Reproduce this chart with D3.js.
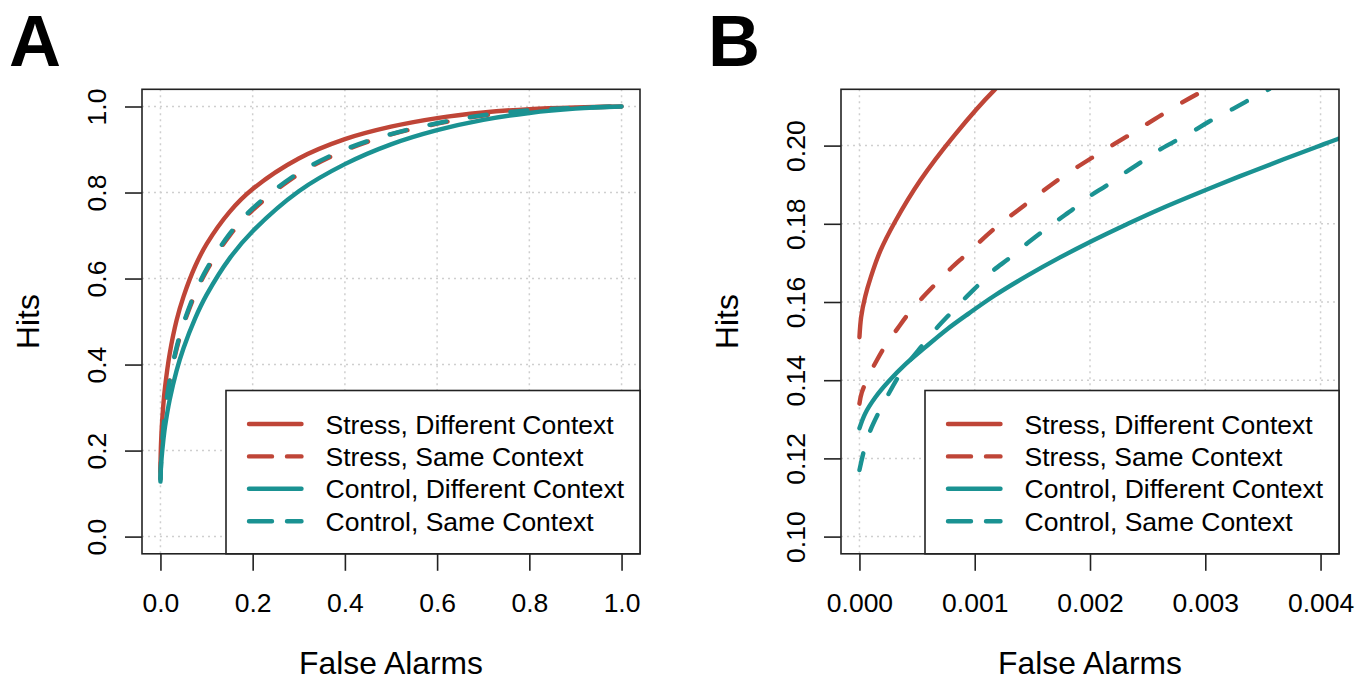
<!DOCTYPE html>
<html>
<head>
<meta charset="utf-8">
<script src="https://cdn.jsdelivr.net/npm/d3@7"></script>
<style>
  body { margin: 0; background: #fff; }
  text { font-family: "Liberation Sans", Arial, Helvetica, sans-serif; }
</style>
</head>
<body>
<script>
// series (false alarm rate, hit rate)
const seriesNames = ["Stress, Different Context", "Stress, Same Context",
                     "Control, Different Context", "Control, Same Context"];

const stressDiffFA   = [0, 0.000015, 0.00005, 0.0001, 0.00018, 0.00031, 0.00053, 0.00082, 0.00117, 0.002, 0.004, 0.007, 0.01, 0.02, 0.035, 0.05, 0.075, 0.1, 0.15, 0.2, 0.3, 0.4, 0.5, 0.6, 0.7, 0.8, 0.9, 1.0];
const stressDiffHits = [0.151, 0.1562, 0.1614, 0.1665, 0.1730, 0.1806, 0.1912, 0.2025, 0.2142, 0.236, 0.274, 0.316, 0.348, 0.425, 0.503, 0.558, 0.628, 0.680, 0.755, 0.808, 0.879, 0.924, 0.953, 0.973, 0.986, 0.994, 0.998, 1.0];

const stressSameFA   = [0, 0.00002, 0.00008, 0.000145, 0.000226, 0.00033, 0.00043, 0.00054, 0.00067, 0.00079, 0.00092, 0.00118, 0.00147, 0.00174, 0.00205, 0.00234, 0.00264, 0.00297, 0.004, 0.007, 0.01, 0.02, 0.035, 0.05, 0.075, 0.1, 0.15, 0.2, 0.3, 0.4, 0.5, 0.6, 0.7, 0.8, 0.9, 1.0];
const stressSameHits = [0.134, 0.1368, 0.1410, 0.1448, 0.1489, 0.1532, 0.1572, 0.1609, 0.1649, 0.1685, 0.1720, 0.1790, 0.1856, 0.1916, 0.1975, 0.2027, 0.2082, 0.2138, 0.228, 0.264, 0.292, 0.362, 0.436, 0.492, 0.563, 0.618, 0.700, 0.759, 0.843, 0.898, 0.935, 0.960, 0.979, 0.990, 0.997, 1.0];

const controlDiffFA   = [0, 0.00005, 0.00014, 0.00025, 0.0004, 0.00057, 0.00075, 0.00095, 0.00117, 0.00146, 0.00174, 0.00203, 0.00232, 0.00261, 0.0031, 0.00339, 0.00368, 0.00397, 0.00415, 0.007, 0.01, 0.02, 0.035, 0.05, 0.075, 0.1, 0.15, 0.2, 0.3, 0.4, 0.5, 0.6, 0.7, 0.8, 0.9, 1.0];
const controlDiffHits = [0.1277, 0.1315, 0.1357, 0.1396, 0.1441, 0.1484, 0.1528, 0.1571, 0.1616, 0.1668, 0.1714, 0.1758, 0.1799, 0.1838, 0.1898, 0.1932, 0.1965, 0.1997, 0.2017, 0.231, 0.256, 0.318, 0.386, 0.438, 0.507, 0.562, 0.647, 0.710, 0.803, 0.866, 0.912, 0.945, 0.969, 0.985, 0.995, 1.0];

const controlSameFA   = [0, 0.00004, 0.00009, 0.00017, 0.00024, 0.00034, 0.00044, 0.00054, 0.00066, 0.00078, 0.0009, 0.00103, 0.00115, 0.0013, 0.00143, 0.00157, 0.00172, 0.00186, 0.00199, 0.00215, 0.00229, 0.00244, 0.00258, 0.00273, 0.00289, 0.00303, 0.00319, 0.00335, 0.00352, 0.004, 0.007, 0.01, 0.02, 0.035, 0.05, 0.075, 0.1, 0.15, 0.2, 0.3, 0.4, 0.5, 0.6, 0.7, 0.8, 0.9, 1.0];
const controlSameHits = [0.117, 0.1221, 0.1268, 0.1319, 0.1358, 0.1410, 0.1451, 0.1487, 0.1530, 0.1568, 0.1605, 0.1643, 0.1678, 0.1712, 0.1744, 0.1776, 0.1809, 0.1839, 0.1869, 0.1899, 0.1928, 0.1957, 0.1985, 0.2010, 0.2036, 0.2061, 0.2086, 0.2112, 0.2139, 0.222, 0.260, 0.290, 0.364, 0.440, 0.496, 0.567, 0.622, 0.704, 0.763, 0.846, 0.900, 0.936, 0.961, 0.980, 0.991, 0.997, 1.0];

// axis limits and ticks
const xLimA = [0, 1];
const yLimA = [0, 1];
const xTicksA = [0, 0.2, 0.4, 0.6, 0.8, 1.0];
const yTicksA = [0, 0.2, 0.4, 0.6, 0.8, 1.0];

const xLimB = [0, 0.004];
const yLimB = [0.10, 0.21];
const xTicksB = [0, 0.001, 0.002, 0.003, 0.004];
const yTicksB = [0.10, 0.12, 0.14, 0.16, 0.18, 0.20];

const xLabel = "False Alarms";
const yLabel = "Hits";

const series = [
  {name: seriesNames[0], fa: stressDiffFA,  hits: stressDiffHits,  color: "#BF4537", dashed: false},
  {name: seriesNames[1], fa: stressSameFA,  hits: stressSameHits,  color: "#BF4537", dashed: true},
  {name: seriesNames[2], fa: controlDiffFA, hits: controlDiffHits, color: "#1A9292", dashed: false},
  {name: seriesNames[3], fa: controlSameFA, hits: controlSameHits, color: "#1A9292", dashed: true}
];

const width = 1369;
const height = 683;
const plotTop = 89.3;
const plotW = 498;
const plotH = 464.5;
const fontSize = 26.5;
const boxColor = "#222";

const svg = d3.select("body")
  .append("svg")
    .attr("width", width)
    .attr("height", height);

function padded(lim) {
  const d = lim[1] - lim[0];
  return [lim[0] - 0.04 * d, lim[1] + 0.04 * d];
}

function drawPanel(p) {
  const left = p.left;
  const bottom = plotTop + plotH;

  const xScale = d3.scaleLinear().domain(padded(p.xLim)).range([left, left + plotW]);
  const yScale = d3.scaleLinear().domain(padded(p.yLim)).range([bottom, plotTop]);

  const g = svg.append("g");

  g.append("clipPath")
    .attr("id", "clip" + p.letter)
    .append("rect")
      .attr("x", left)
      .attr("y", plotTop)
      .attr("width", plotW)
      .attr("height", plotH);

  // dotted grid
  g.selectAll(".gx")
    .data(p.xTicks)
    .enter()
    .append("line")
      .attr("x1", d => xScale(d))
      .attr("x2", d => xScale(d))
      .attr("y1", plotTop)
      .attr("y2", bottom)
      .attr("stroke", "#cfcfcf")
      .attr("stroke-width", 1.5)
      .attr("stroke-dasharray", "2,4");

  g.selectAll(".gy")
    .data(p.yTicks)
    .enter()
    .append("line")
      .attr("x1", left)
      .attr("x2", left + plotW)
      .attr("y1", d => yScale(d))
      .attr("y2", d => yScale(d))
      .attr("stroke", "#cfcfcf")
      .attr("stroke-width", 1.5)
      .attr("stroke-dasharray", "2,4");

  // curves
  const line = d3.line()
    .x(d => xScale(d[0]))
    .y(d => yScale(d[1]))
    .curve(d3.curveCatmullRom.alpha(0.5));

  const curves = g.append("g").attr("clip-path", "url(#clip" + p.letter + ")");
  series.forEach(function(s, i) {
    curves.append("path")
      .datum(s.fa.map((f, j) => [f, s.hits[j]]))
      .attr("d", line)
      .attr("fill", "none")
      .attr("stroke", s.color)
      .attr("stroke-width", 4.4)
      .attr("stroke-linecap", "round")
      .attr("stroke-linejoin", "round")
      .attr("stroke-dasharray", s.dashed ? "17,24" : null)
      .attr("stroke-dashoffset", i === 3 ? p.dashShift : 0);
  });

  // axes
  const xAxis = g.append("g")
    .attr("transform", "translate(0," + bottom + ")")
    .call(d3.axisBottom(xScale)
      .tickValues(p.xTicks)
      .tickSize(17)
      .tickPadding(22)
      .tickFormat(d3.format(p.xFmt)));

  const yAxis = g.append("g")
    .attr("transform", "translate(" + left + ",0)")
    .call(d3.axisLeft(yScale)
      .tickValues(p.yTicks)
      .tickSize(17)
      .tickFormat(d3.format(p.yFmt)));

  [xAxis, yAxis].forEach(function(a) {
    a.select(".domain").remove();
    a.selectAll(".tick line").attr("stroke", boxColor).attr("stroke-width", 1.6);
    a.selectAll(".tick text")
      .attr("fill", "#000")
      .style("font-size", fontSize + "px")
      .style("font-family", '"Liberation Sans", Arial, sans-serif');
  });

  yAxis.selectAll(".tick text")
    .attr("x", 0)
    .attr("dy", "0.36em")
    .attr("text-anchor", "middle")
    .attr("transform", "translate(-46,0) rotate(-90)");

  // box
  g.append("rect")
    .attr("x", left)
    .attr("y", plotTop)
    .attr("width", plotW)
    .attr("height", plotH)
    .attr("fill", "none")
    .attr("stroke", boxColor)
    .attr("stroke-width", 1.6);

  // legend (bottom right)
  const legLeft = left + 84;
  const legTop = 390.5;
  g.append("rect")
    .attr("x", legLeft)
    .attr("y", legTop)
    .attr("width", left + plotW - legLeft)
    .attr("height", bottom - legTop)
    .attr("fill", "#fff")
    .attr("stroke", boxColor)
    .attr("stroke-width", 1.6);

  const rows = g.selectAll(".leg")
    .data(series)
    .enter()
    .append("g")
      .attr("transform", (d, i) => "translate(" + legLeft + "," + (legTop + 33.5 + i * 32.4) + ")");

  rows.append("line")
    .attr("x1", 23)
    .attr("x2", 75.5)
    .attr("y1", 0)
    .attr("y2", 0)
    .attr("stroke", d => d.color)
    .attr("stroke-width", 4.4)
    .attr("stroke-linecap", "round")
    .attr("stroke-dasharray", d => d.dashed ? "23,15" : null);

  rows.append("text")
    .attr("x", 99.5)
    .attr("y", 0)
    .attr("dy", "0.36em")
    .style("font-size", fontSize + "px")
    .text(d => d.name);

  // axis titles
  g.append("text")
    .attr("x", left + plotW / 2)
    .attr("y", 663)
    .attr("dy", "0.36em")
    .attr("text-anchor", "middle")
    .style("font-size", "31.8px")
    .text(xLabel);

  g.append("text")
    .attr("transform", "translate(" + (left - 114) + "," + (plotTop + plotH / 2) + ") rotate(-90)")
    .attr("dy", "0.36em")
    .attr("text-anchor", "middle")
    .style("font-size", "31.8px")
    .text(yLabel);

  // panel letter
  g.append("text")
    .attr("x", p.letterX)
    .attr("y", 66)
    .style("font-size", "72px")
    .style("font-weight", "bold")
    .text(p.letter);
}

drawPanel({letter: "A", letterX: 9, left: 142, xLim: xLimA, yLim: yLimA, dashShift: 34,
           xTicks: xTicksA, yTicks: yTicksA, xFmt: ".1f", yFmt: ".1f"});
drawPanel({letter: "B", letterX: 708, left: 841, xLim: xLimB, yLim: yLimB, dashShift: 0,
           xTicks: xTicksB, yTicks: yTicksB, xFmt: ".3f", yFmt: ".2f"});
</script>
</body>
</html>
